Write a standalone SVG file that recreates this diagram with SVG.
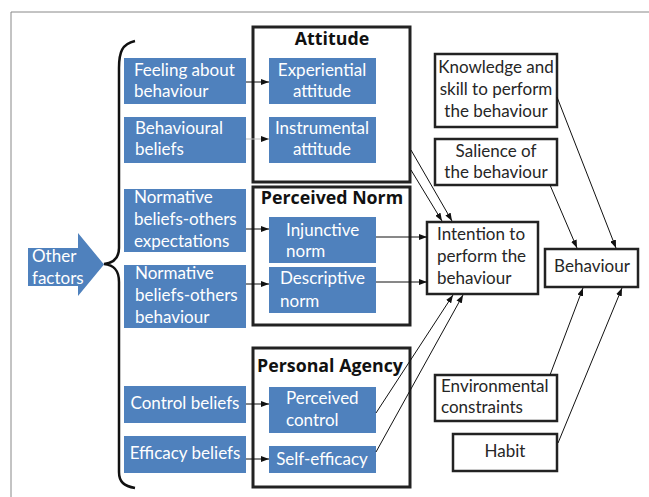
<svg xmlns="http://www.w3.org/2000/svg" width="649" height="497" viewBox="0 0 649 497">
<style>
.blue{fill:#4F81BD;}
.wt{fill:#ffffff;font-family:Lato,"Open Sans",sans-serif;font-size:17px;}
.dk{fill:#262626;font-family:Lato,"Open Sans",sans-serif;font-size:17px;}
.ttl{fill:#111;font-family:"Open Sans",Lato,sans-serif;font-size:17.8px;font-weight:bold;}
.grp{fill:none;stroke:#222;stroke-width:3;}
.box{fill:#fff;stroke:#222;stroke-width:2.5;}
.con line{stroke:#111;stroke-width:1;marker-end:url(#ah);}
.c{text-anchor:middle;}
</style>
<defs>
<marker id="ah" markerUnits="userSpaceOnUse" markerWidth="8" markerHeight="6" refX="8" refY="3" orient="auto">
<path d="M0,0 L8,3 L0,6 z" fill="#111"/>
</marker>
</defs>
<rect width="649" height="497" fill="#fff"/>
<path d="M11,497 V12 H649" fill="none" stroke="#888" stroke-width="1"/>

<g id="brace"><path d="M135,41 C122,44 119,52 119,68 V248 C119,258 114,263 104,264 C114,265 119,270 119,282 V472 C119,482 124,486 135,488" fill="none" stroke="#111" stroke-width="2.5"/></g>

<g id="other-factors">
<polygon class="blue" points="28,248 78,248 78,233 104,264.5 78,296 78,286 28,286"/>
<text class="wt" x="32" y="262">Other</text>
<text class="wt" x="32" y="284">factors</text>
</g>

<g id="attitude-group"><rect class="grp" x="253" y="27" width="157" height="155"/><text class="ttl c" x="332" y="45">Attitude</text></g>
<g id="norm-group"><rect class="grp" x="253" y="187" width="157" height="138"/><text class="ttl c" x="332" y="204">Perceived Norm</text></g>
<g id="agency-group"><rect class="grp" x="253" y="348" width="157" height="139"/><text class="ttl c" x="330" y="372">Personal Agency</text></g>

<g id="feeling"><rect class="blue" x="124" y="58" width="122" height="46"/><text class="wt" x="134" y="76">Feeling about</text><text class="wt" x="134" y="97">behaviour</text></g>
<g id="behavioural-beliefs"><rect class="blue" x="124" y="117" width="122" height="46"/><text class="wt" x="135" y="134">Behavioural</text><text class="wt" x="135" y="155">beliefs</text></g>
<g id="normative-expectations"><rect class="blue" x="124" y="189" width="122" height="63"/><text class="wt" x="134" y="203">Normative</text><text class="wt" x="134" y="225">beliefs-others</text><text class="wt" x="134" y="247">expectations</text></g>
<g id="normative-behaviour"><rect class="blue" x="124" y="265" width="122" height="63"/><text class="wt" x="135" y="279">Normative</text><text class="wt" x="135" y="301">beliefs-others</text><text class="wt" x="135" y="323">behaviour</text></g>
<g id="control-beliefs"><rect class="blue" x="124" y="386" width="122" height="37"/><text class="wt c" x="185" y="409">Control beliefs</text></g>
<g id="efficacy-beliefs"><rect class="blue" x="124" y="436" width="122" height="37"/><text class="wt c" x="185" y="459">Efficacy beliefs</text></g>

<g id="experiential"><rect class="blue" x="269" y="58" width="107" height="46"/><text class="wt c" x="322" y="76">Experiential</text><text class="wt c" x="322" y="97">attitude</text></g>
<g id="instrumental"><rect class="blue" x="269" y="117" width="107" height="46"/><text class="wt c" x="322" y="134">Instrumental</text><text class="wt c" x="322" y="155">attitude</text></g>
<g id="injunctive"><rect class="blue" x="269" y="217" width="107" height="46"/><text class="wt" x="286" y="236">Injunctive</text><text class="wt" x="286" y="257">norm</text></g>
<g id="descriptive"><rect class="blue" x="269" y="267" width="107" height="46"/><text class="wt" x="280" y="284">Descriptive</text><text class="wt" x="280" y="307">norm</text></g>
<g id="perceived-control"><rect class="blue" x="269" y="387" width="107" height="46"/><text class="wt" x="286" y="404">Perceived</text><text class="wt" x="286" y="426">control</text></g>
<g id="self-efficacy"><rect class="blue" x="269" y="446" width="107" height="27"/><text class="wt c" x="322" y="465">Self-efficacy</text></g>

<g id="knowledge"><rect class="box" x="435" y="54" width="122" height="73"/><text class="dk c" x="496" y="73">Knowledge and</text><text class="dk c" x="496" y="95">skill to perform</text><text class="dk c" x="496" y="117">the behaviour</text></g>
<g id="salience"><rect class="box" x="435" y="139" width="122" height="46"/><text class="dk c" x="496" y="157">Salience of</text><text class="dk c" x="496" y="178">the behaviour</text></g>
<g id="intention"><rect class="box" x="427" y="222" width="111" height="72"/><text class="dk" x="437" y="240">Intention to</text><text class="dk" x="437" y="262">perform the</text><text class="dk" x="437" y="284">behaviour</text></g>
<g id="behaviour"><rect class="box" x="545" y="249" width="93" height="38"/><text class="dk c" x="592" y="272">Behaviour</text></g>
<g id="environmental"><rect class="box" x="435" y="375" width="122" height="46"/><text class="dk" x="441" y="392">Environmental</text><text class="dk" x="441" y="413">constraints</text></g>
<g id="habit"><rect class="box" x="453" y="434" width="104" height="37"/><text class="dk c" x="505" y="457">Habit</text></g>

<g id="connectors" class="con">
<line x1="246" y1="82" x2="269" y2="82"/>
<line x1="246" y1="139" x2="269" y2="139" style="stroke:#bbb"/>
<line x1="246" y1="229" x2="269" y2="229"/>
<line x1="246" y1="284" x2="269" y2="284"/>
<line x1="246" y1="404" x2="269" y2="404"/>
<line x1="246" y1="459" x2="269" y2="459"/>
<line x1="376" y1="237" x2="427" y2="237"/>
<line x1="376" y1="282" x2="427" y2="282"/>
<line x1="411" y1="150" x2="452" y2="221"/>
<line x1="411" y1="170" x2="442" y2="221"/>
<line x1="376" y1="413" x2="453" y2="295"/>
<line x1="376" y1="452" x2="463" y2="295"/>
<line x1="557" y1="97" x2="616" y2="248"/>
<line x1="550" y1="185" x2="577" y2="248"/>
<line x1="550" y1="375" x2="583" y2="288"/>
<line x1="558" y1="443" x2="622" y2="288"/>
</g>
</svg>
